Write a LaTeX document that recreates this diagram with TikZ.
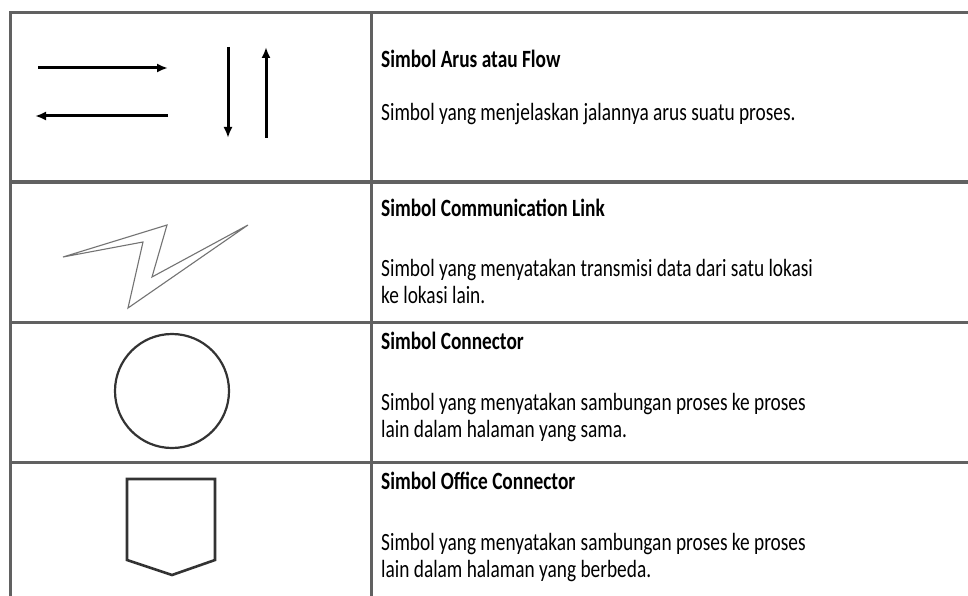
\documentclass[tikz,border=0pt]{standalone}
\usepackage{fontspec}
\setmainfont{Carlito}[FakeStretch=0.78]
\usetikzlibrary{arrows.meta}
\tikzset{
  garis/.style={draw=black!62, line width=3pt},
  panah/.style={line width=3pt, -{Latex[length=11pt,width=9pt]}},
  judul/.style={anchor=base west, font=\fontsize{24.8}{27}\selectfont\bfseries, inner sep=0pt},
  ket/.style={anchor=base west, font=\fontsize{24.8}{27}\selectfont, inner sep=0pt, align=left},
  simbol/.style={line width=2.2pt, draw=black!80}
}
\begin{document}
\begin{tikzpicture}[x=1pt, y=-1pt]
\useasboundingbox (0,0) rectangle (968,596);
\fill[white] (0,0) rectangle (968,596);

% Garis tabel
\draw[garis] (968,13) -- (10,13) -- (10,596);
\draw[garis] (371,13) -- (371,596);
\foreach \y in {182,322,462}
  \draw[garis] (10,\y) -- (968,\y);

% Baris 1: panah arus
\coordinate (ka1) at (38,68);   \coordinate (ka2) at (168,68);
\coordinate (ki1) at (168,116); \coordinate (ki2) at (35,116);
\coordinate (tu1) at (228,47);  \coordinate (tu2) at (228,138);
\coordinate (na1) at (266,138); \coordinate (na2) at (266,47);
\draw[panah] (ka1) -- (ka2);
\draw[panah] (ki1) -- (ki2);
\draw[panah] (tu1) -- (tu2);
\draw[panah] (na1) -- (na2);

% Baris 2: petir (communication link)
\draw[line width=1.1pt, draw=black!55, line join=miter]
  (63,257) -- (167,225) -- (152,277) -- (248,225) -- (128,308) -- (143,242) -- cycle;

% Baris 3: lingkaran
\draw[simbol] (172,391) circle (57);

% Baris 4: segi lima
\draw[simbol, line width=2.6pt] (127,479) -- (215,479) -- (215,560) -- (172,575) -- (127,560) -- cycle;

% Teks (base = garis dasar baris terakhir)
\node[judul] (j1) at (381,68) {Simbol Arus atau Flow};
\node[ket] (k1) at (381,121) {Simbol yang menjelaskan jalannya arus suatu proses.};

\node[judul] (j2) at (381,216) {Simbol Communication Link};
\node[ket] (k2) at (381,303) {Simbol yang menyatakan transmisi data dari satu lokasi\\ke lokasi lain.};

\node[judul] (j3) at (381,349) {Simbol Connector};
\node[ket] (k3) at (381,437) {Simbol yang menyatakan sambungan proses ke proses\\lain dalam halaman yang sama.};

\node[judul] (j4) at (381,489) {Simbol Office Connector};
\node[ket] (k4) at (381,577) {Simbol yang menyatakan sambungan proses ke proses\\lain dalam halaman yang berbeda.};
\end{tikzpicture}
\end{document}
